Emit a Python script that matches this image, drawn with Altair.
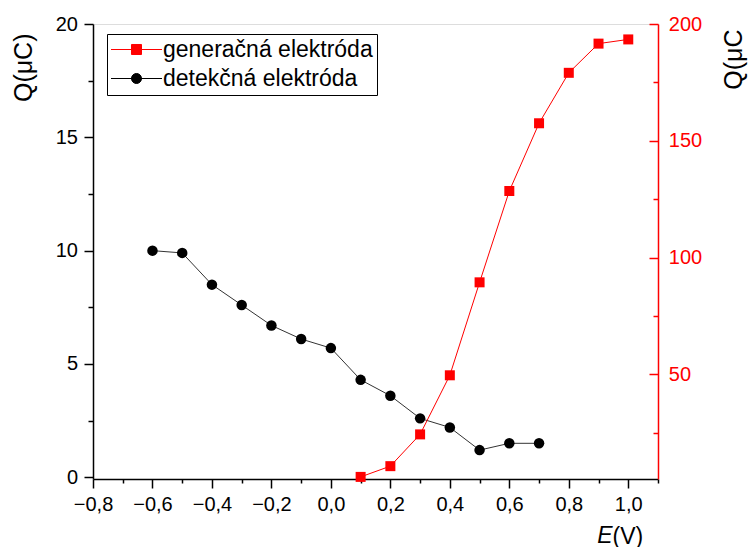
import altair as alt
import pandas as pd

# ---- data ----
E_det = [-0.6, -0.5, -0.4, -0.3, -0.2, -0.1, 0.0, 0.1, 0.2, 0.3, 0.4, 0.5, 0.6, 0.7]
Q_det = [10.0, 9.9, 8.5, 7.6, 6.7, 6.1, 5.7, 4.3, 3.6, 2.6, 2.2, 1.2, 1.5, 1.5]
E_gen = [0.1, 0.2, 0.3, 0.4, 0.5, 0.6, 0.7, 0.8, 0.9, 1.0]
Q_gen = [6.1, 10.7, 24.3, 49.6, 89.4, 128.5, 157.5, 179.1, 191.6, 193.4]
series_names = ["generačná elektróda", "detekčná elektróda"]
series_colors = ["red", "black"]
x_ticks = [-0.8, -0.7, -0.6, -0.5, -0.4, -0.3, -0.2, -0.1, 0.0, 0.1,
           0.2, 0.3, 0.4, 0.5, 0.6, 0.7, 0.8, 0.9, 1.0, 1.1]
y_left_ticks = [0, 2.5, 5, 7.5, 10, 12.5, 15, 17.5, 20]
y_right_ticks = [25, 50, 75, 100, 125, 150, 175, 200]

W, H = 565, 455
FONT = "Liberation Sans"

det = pd.DataFrame({"E": E_det, "Q": Q_det, "series": series_names[1]})
gen = pd.DataFrame({"E": E_gen, "Q": Q_gen, "series": series_names[0]})
both = pd.concat([gen, det], ignore_index=True)

x_scale = alt.Scale(domain=[-0.8, 1.1], nice=False, zero=False)
yl_scale = alt.Scale(domain=[-0.075, 20], nice=False, zero=False)
yr_scale = alt.Scale(domain=[5.2, 200], nice=False, zero=False)

common_axis = dict(grid=False, labelFont=FONT, titleFont=FONT, labelFontSize=20,
                   titleFontWeight="normal", titleColor="black",
                   labelOverlap=False, tickWidth=1.5, domainWidth=1.5)

x_axis = alt.Axis(
    values=x_ticks, orient="bottom", title="(V)", titleX=519, titleY=64,
    titleAlign="left", titleBaseline="alphabetic", titleAngle=0, titleFontSize=23,
    labelExpr="abs(round(datum.value*10)) % 2 == 0 ? replace(replace(format(datum.value, '.1f'), '.', ','), '-', '\u2212') : ''",
    labelPadding=6, labelFlush=False, labelColor="black",
    tickSize={"condition": {"test": "abs(round(datum.value*10)) % 2 == 1", "value": 4}, "value": 9},
    tickColor="black", domainColor="black", **common_axis)

yl_axis = alt.Axis(
    values=y_left_ticks, orient="left", title="Q(μC)", titleX=-70, titleY=9,
    titleAngle=270, titleAlign="right", titleBaseline="middle", titleFontSize=25,
    labelExpr="datum.value % 5 == 0 ? format(datum.value, 'd') : ''",
    labelPadding=6.5, labelColor="black",
    tickSize={"condition": {"test": "datum.value % 5 != 0", "value": 5}, "value": 9},
    tickColor="black", domainColor="black", **common_axis)

yr_axis = alt.Axis(
    values=y_right_ticks, orient="left", offset=-W, title="Q(μC", titleX=75, titleY=5,
    titleAngle=270, titleAlign="right", titleBaseline="middle", titleFontSize=25,
    labelExpr="datum.value % 50 == 0 ? format(datum.value, 'd') : ''",
    labelAlign="left", labelPadding=-19.3, labelColor="red",
    tickSize={"condition": {"test": "datum.value % 50 != 0", "value": 5}, "value": 9},
    tickColor="red", domainColor="red", **common_axis)

x_enc = alt.X("E:Q", scale=x_scale, axis=x_axis)

black_base = alt.Chart(det).encode(x=x_enc, y=alt.Y("Q:Q", scale=yl_scale, axis=yl_axis))
black_line = black_base.mark_line(color="#333333", strokeWidth=1)
black_pts = black_base.mark_point(shape="circle", filled=True, color="black", size=110, opacity=1)
left = alt.layer(black_line, black_pts)

red_base = alt.Chart(gen).encode(x=alt.X("E:Q", scale=x_scale, axis=None),
                                 y=alt.Y("Q:Q", scale=yr_scale, axis=yr_axis))
red_line = red_base.mark_line(color="red", strokeWidth=1)
red_pts = red_base.mark_point(shape="square", filled=True, color="red", size=100, opacity=1)
right = alt.layer(red_line, red_pts)

# legend symbols: line through a marker (custom paths in [-1,1] units, size 484 -> 11 px/unit)
sym_square = "M-2.318,0H2.318M-0.455,-0.455H0.455V0.455H-0.455Z"
sym_circle = "M-2.318,0H2.318M-0.455,0A0.455,0.455,0,1,1,0.455,0A0.455,0.455,0,1,1,-0.455,0Z"

legend = alt.Legend(orient="none", legendX=14, legendY=10, padding=4, strokeColor="black",
                    fillColor="white", title=None, labelFont=FONT, labelFontSize=23,
                    labelColor="black", labelLimit=400, labelOffset=15, symbolOffset=14,
                    symbolSize=484, symbolStrokeWidth=1, rowPadding=5)

top_axis = alt.Axis(orient="top", domain=False, ticks=False, labels=False, grid=False,
                    title="E", titleFont=FONT, titleFontSize=23, titleFontStyle="italic",
                    titleFontWeight="normal", titleColor="black", titleX=503.7, titleY=518.7,
                    titleAlign="left", titleBaseline="alphabetic", titleAngle=0)

dummy = alt.Chart(both).transform_filter("false").mark_point(size=484, strokeWidth=1, opacity=1).encode(
    x=alt.X("E:Q", scale=x_scale, axis=top_axis),
    fill=alt.Fill("series:N", scale=alt.Scale(domain=series_names, range=series_colors), legend=legend),
    stroke=alt.Stroke("series:N", scale=alt.Scale(domain=series_names, range=series_colors), legend=legend),
    shape=alt.Shape("series:N", scale=alt.Scale(domain=series_names, range=[sym_square, sym_circle]), legend=legend),
)

chart = (
    alt.layer(left, right, dummy)
    .resolve_scale(y="independent")
    .resolve_axis(x="independent", y="independent")
    .properties(width=W, height=H,
                padding={"left": 93, "top": 24, "right": 90, "bottom": 68},
                autosize=alt.AutoSizeParams(type="none"))
    .configure_view(stroke="black", strokeWidth=1.5)
    .configure(font=FONT, background="white")
)

chart.save("out.html", embed_options={"renderer": "svg", "actions": False})
